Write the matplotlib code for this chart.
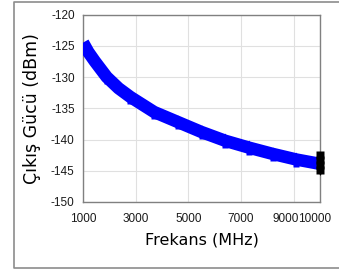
import numpy as np
import matplotlib.pyplot as plt
from matplotlib.lines import Line2D
from matplotlib.transforms import ScaledTranslation

# values
freq_mhz = [1000, 1200, 1450, 1900, 2350, 2800, 3700, 4600, 5500, 6400, 7300, 8200, 9100, 10000]
power_dbm = [-124.5, -126.0, -127.5, -130.0, -131.8, -133.2, -135.6, -137.2, -138.8, -140.2,
             -141.3, -142.3, -143.2, -143.9]
marker_freq = [1900, 2800, 3700, 4600, 5500, 6400, 7300, 8200, 9100]
marker_power = [-130.0, -133.2, -135.6, -137.2, -138.8, -140.2, -141.3, -142.3, -143.2]
end_freq = [10000, 10000, 10000, 10000]
end_power = [-142.5, -143.3, -144.1, -144.8]

x_ticks = [1000, 3000, 5000, 7000, 9000, 10000]
y_ticks = [-150, -145, -140, -135, -130, -125, -120]

plt.rcParams['font.family'] = ['Liberation Sans', 'DejaVu Sans']

fig = plt.figure(figsize=(3.39, 2.70), dpi=100)
# chart area frame (right side runs off the picture)
x0, y0, y1 = 13.5 / 339, 1 - 267.5 / 270, 1 - 1.5 / 270
fig.add_artist(Line2D([1.0, x0, x0, 1.0], [y1, y1, y0, y0], transform=fig.transFigure,
                      color='#8c8c8c', lw=1.2, zorder=0))

ax = fig.add_axes([83 / 339, 1 - 202 / 270, 237 / 339, 187.5 / 270])

ax.plot(freq_mhz, power_dbm, color='#0000ff', lw=9, solid_capstyle='butt',
        solid_joinstyle='round', zorder=3)
ax.plot(marker_freq, np.array(marker_power) + 0.7, ls='none', marker='^',
        ms=5, color='#0000ff', mec='none', zorder=3)
ax.plot(marker_freq, np.array(marker_power) - 0.7, ls='none', marker='s',
        ms=4.5, color='#0000ff', mec='none', zorder=3)
ax.plot(end_freq, end_power, ls='none', marker='s', ms=5.5, color='black',
        mec='none', zorder=4, clip_on=False)
ax.plot([10000], [-145.3], ls='none', marker='v', ms=3.5, color='black',
        mec='none', zorder=4, clip_on=False)

ax.set_xlim(1000, 10000)
ax.set_ylim(-150, -120)
ax.set_xticks(x_ticks)
ax.set_yticks(y_ticks)
ax.set_xticklabels([str(t) for t in x_ticks])
ax.set_yticklabels([str(t) for t in y_ticks])
ax.tick_params(length=0, labelsize=8.5, colors='#1a1a1a')
ax.tick_params(axis='y', pad=6)
ax.tick_params(axis='x', pad=8)

# Excel nudges the crowded last labels apart
labels = ax.get_xticklabels()
labels[4].set_transform(labels[4].get_transform() + ScaledTranslation(-8 / 100, 0, fig.dpi_scale_trans))
labels[5].set_transform(labels[5].get_transform() + ScaledTranslation(-5 / 100, 0, fig.dpi_scale_trans))

ax.grid(True, color='#e0e0e0', lw=0.8)
ax.set_axisbelow(True)
for s in ax.spines.values():
    s.set_color('#808080')
    s.set_linewidth(1.0)

ax.set_xlabel('Frekans (MHz)', fontsize=11.5, family=['DejaVu Sans'], labelpad=5)
ax.set_ylabel('Çıkış Gücü (dBm)', fontsize=12.5, family=['DejaVu Sans'], labelpad=7)

fig.savefig('out.png', dpi=100)
